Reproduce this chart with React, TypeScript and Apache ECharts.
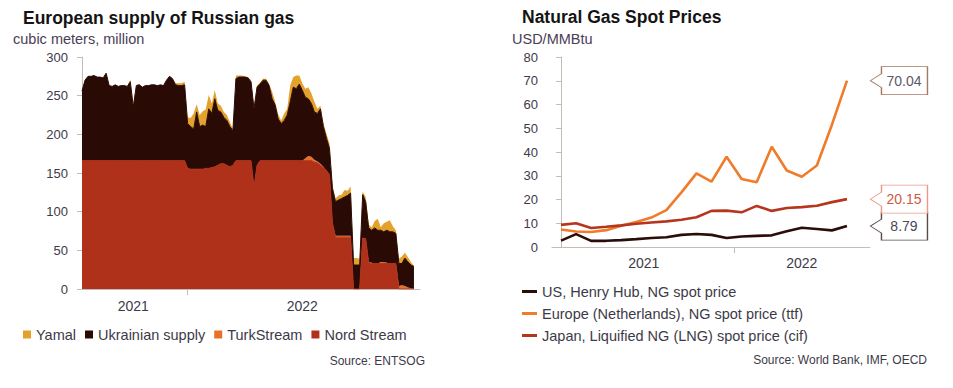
import React, { useEffect, useRef } from "react";
import * as echarts from "echarts";

// ---------- Left chart data (European supply of Russian gas, mcm/day) ----------
const gasSeriesNames = ["Yamal", "Ukrainian supply", "TurkStream", "Nord Stream"];
const leftYearLabels = ["2021", "2022"];

const nordStream = [
  166, 166, 166, 166, 166, 166, 166, 166, 166, 166,
  166, 166, 166, 166, 166, 166, 166, 166, 166, 166,
  166, 166, 166, 166, 166, 166, 166, 166, 166, 166,
  166, 166, 166, 166, 166, 156, 155, 155, 155, 155,
  155, 156, 156, 157, 158, 160, 162, 162, 160, 158,
  160, 166, 166, 166, 166, 166, 166, 132, 160, 166,
  166, 166, 166, 166, 166, 166, 166, 166, 166, 166,
  166, 166, 166, 166, 166, 166, 166, 164, 163, 160,
  157, 153, 148, 85, 67, 67, 67, 67, 67, 67,
  0, 0, 0, 66, 65, 34, 33, 33, 33, 33,
  33, 33, 33, 33, 33, 0, 0, 0, 0, 0, 0,
];

const turkStream = [
  0, 0, 0, 0, 0, 0, 0, 0, 0, 0,
  0, 0, 0, 0, 0, 0, 0, 0, 0, 0,
  0, 0, 0, 0, 0, 0, 0, 0, 0, 0,
  0, 0, 0, 0, 0, 0, 0, 0, 0, 0,
  0, 0, 0, 0, 0, 0, 0, 0, 0, 0,
  0, 0, 0, 0, 0, 0, 0, 0, 0, 0,
  0, 0, 0, 0, 0, 0, 0, 0, 0, 0,
  0, 0, 0, 0, 3, 6, 5, 3, 2, 2,
  1, 0, 0, 0, 2, 2, 2, 2, 2, 2,
  0, 0, 0, 0, 0, 1, 1, 0, 0, 2,
  2, 1, 0, 0, 0, 4, 5, 4, 2, 1, 0,
];

const ukrainianSupply = [
  90, 104, 109, 109, 110, 108, 108, 107, 113, 97,
  96, 98, 96, 97, 97, 96, 102, 69, 97, 98,
  95, 97, 97, 98, 98, 97, 98, 97, 104, 109,
  106, 98, 97, 97, 98, 58, 55, 52, 74, 55,
  57, 54, 77, 70, 88, 71, 67, 60, 58, 52,
  45, 106, 108, 108, 108, 107, 102, 101, 101, 99,
  104, 104, 97, 80, 72, 54, 48, 52, 59, 76,
  95, 93, 99, 91, 79, 74, 69, 62, 62, 71,
  52, 42, 34, 45, 44, 46, 48, 50, 52, 55,
  31, 31, 31, 56, 48, 44, 42, 46, 43, 41,
  39, 42, 41, 41, 39, 29, 28, 36, 33, 30, 29,
];

const yamal = [
  0, 0, 0, 0, 0, 0, 0, 0, 1, 0,
  0, 0, 0, 0, 0, 0, 3, 6, 1, 1,
  0, 0, 0, 0, 0, 0, 0, 0, 0, 0,
  0, 2, 3, 3, 4, 8, 11, 20, 10, 15,
  18, 22, 18, 13, 11, 9, 8, 7, 7, 6,
  2, 4, 2, 2, 1, 1, 2, 4, 2, 2,
  2, 2, 2, 9, 4, 6, 4, 9, 8, 21,
  13, 17, 11, 9, 11, 15, 13, 13, 6, 4,
  4, 6, 6, 4, 4, 6, 5, 9, 6, 9,
  9, 9, 8, 4, 6, 4, 4, 9, 15, 4,
  11, 11, 15, 7, 4, 6, 9, 7, 6, 4, 1,
];

// ---------- Right chart data (Natural gas spot prices, USD/MMBtu, monthly) ----------
const months = [
  "2021-01", "2021-02", "2021-03", "2021-04", "2021-05", "2021-06", "2021-07",
  "2021-08", "2021-09", "2021-10", "2021-11", "2021-12", "2022-01", "2022-02",
  "2022-03", "2022-04", "2022-05", "2022-06", "2022-07", "2022-08",
];
const rightYearLabels = ["2021", "2022"];
const priceSeriesNames = [
  "US, Henry Hub, NG spot price",
  "Europe (Netherlands), NG spot price (ttf)",
  "Japan, Liquified NG (LNG) spot price (cif)",
];
const usHenryHub = [2.7, 5.4, 2.6, 2.6, 2.9, 3.3, 3.8, 4.1, 5.1, 5.5, 5.1, 3.8, 4.4, 4.7, 4.9, 6.6, 8.1, 7.6, 7.0, 8.79];
const europeTTF = [7.4, 6.5, 6.3, 7.1, 8.9, 10.5, 12.4, 15.5, 23.0, 31.0, 27.5, 38.0, 28.6, 27.3, 42.2, 32.2, 29.6, 34.3, 51.5, 70.04];
const japanLNG = [9.3, 10.0, 8.0, 8.5, 9.1, 9.8, 10.3, 10.8, 11.5, 12.5, 15.2, 15.3, 14.6, 17.3, 15.2, 16.4, 16.8, 17.4, 18.9, 20.15];

// ---------- Layout / style constants ----------
const W = 953;
const H = 388;
const FONT = '"Liberation Sans", Arial, Helvetica, sans-serif';
const TXT = "#3d3a48";
const AXIS = "#c6bcb6";

const LEFT_PAD_CATEGORIES = 2; // empty slots after the last observation
const leftYearLabelIdx = [17, 73];
const leftYearTickIdx = 35;
const rightYearLabelPos = [5.5, 16];
const rightYearTickPos = [11.5];

const gasColors: Record<string, string> = {
  "Yamal": "#e4a22c",
  "Ukrainian supply": "#2a0a05",
  "TurkStream": "#ea7028",
  "Nord Stream": "#b0311a",
};
const gasEdgeWidth: Record<string, number> = {
  "Yamal": 0,
  "Ukrainian supply": 1,
  "TurkStream": 0,
  "Nord Stream": 1,
};

export default function App() {
  const ref = useRef<HTMLDivElement>(null);

  useEffect(() => {
    document.body.style.margin = "0";
    const chart = echarts.init(ref.current!, null, { renderer: "svg" });

    const nLeft = nordStream.length + LEFT_PAD_CATEGORIES;
    const leftCategories = Array.from({ length: nLeft }, (_, i) => "d" + i);
    const toPairs = (arr: number[]) => arr.map((v, i) => [i, v]);

    const area = (name: string, data: number[]) => ({
      name,
      type: "line",
      stack: "gas",
      xAxisIndex: 0,
      yAxisIndex: 0,
      data,
      symbol: "none",
      showSymbol: false,
      lineStyle: { width: gasEdgeWidth[name], color: gasColors[name] },
      areaStyle: { color: gasColors[name], opacity: 1 },
      itemStyle: { color: gasColors[name] },
      emphasis: { disabled: true },
      silent: true,
    });

    const line = (name: string, data: number[], color: string, boxBorder: string, boxText: string) => {
      const last = data.length - 1;
      return {
        name,
        type: "line",
        xAxisIndex: 1,
        yAxisIndex: 1,
        data: toPairs(data),
        symbol: "none",
        showSymbol: false,
        lineStyle: { width: 2.6, color },
        itemStyle: { color },
        emphasis: { disabled: true },
        silent: true,
        markPoint: {
          silent: true,
          symbol: "path://M11,0L57,0L57,28L11,28L11,21L0,14L11,7Z",
          symbolSize: [57, 28],
          symbolOffset: [52, 0],
          itemStyle: { color: "#ffffff", borderColor: boxBorder, borderWidth: 1 },
          label: {
            show: true,
            color: boxText,
            fontSize: 14,
            fontFamily: FONT,
            offset: [5, 0],
            formatter: (p: any) => Number(p.value).toFixed(2),
          },
          data: [{ coord: [last, data[last]], value: data[last] }],
        },
      };
    };

    const yAxisCommon = {
      type: "value",
      axisLine: { show: true, lineStyle: { color: AXIS, width: 1 } },
      axisTick: { show: true, length: 5, lineStyle: { color: AXIS } },
      splitLine: { show: false },
      axisLabel: { color: TXT, fontSize: 13, fontFamily: FONT, margin: 14 },
    };

    const option: any = {
      animation: false,
      backgroundColor: "#ffffff",
      textStyle: { fontFamily: FONT },
      graphic: [
        { type: "text", x: 23, y: 18, style: { text: "European supply of Russian gas", fontSize: 17.5, fontWeight: "bold", fontFamily: FONT, fill: "#141414", verticalAlign: "middle" } },
        { type: "text", x: 13, y: 39, style: { text: "cubic meters, million", fontSize: 14.5, fontFamily: FONT, fill: "#4a4056", verticalAlign: "middle" } },
        { type: "text", x: 522, y: 17, style: { text: "Natural Gas Spot Prices", fontSize: 17.5, fontWeight: "bold", fontFamily: FONT, fill: "#141414", verticalAlign: "middle" } },
        { type: "text", x: 512, y: 38.5, style: { text: "USD/MMBtu", fontSize: 14.5, fontFamily: FONT, fill: "#4a4056", verticalAlign: "middle" } },
        { type: "text", x: 425, y: 361, style: { text: "Source: ENTSOG", fontSize: 12, fontFamily: FONT, fill: TXT, align: "right", verticalAlign: "middle" } },
        { type: "text", x: 927, y: 360, style: { text: "Source: World Bank, IMF, OECD", fontSize: 12, fontFamily: FONT, fill: TXT, align: "right", verticalAlign: "middle" } },
      ],
      legend: [
        {
          data: gasSeriesNames,
          left: 18,
          top: 322,
          icon: "rect",
          itemWidth: 8,
          itemHeight: 8,
          itemGap: 9,
          selectedMode: false,
          textStyle: { color: TXT, fontSize: 14.5, fontFamily: FONT },
        },
        {
          data: priceSeriesNames,
          orient: "vertical",
          left: 517,
          top: 279,
          icon: "rect",
          itemWidth: 15,
          itemHeight: 3,
          itemGap: 7,
          selectedMode: false,
          textStyle: { color: TXT, fontSize: 14.5, fontFamily: FONT },
        },
      ],
      grid: [
        { left: 82, top: 57, width: 338, height: 232 },
        { left: 552, top: 57, width: 318, height: 190 },
      ],
      xAxis: [
        {
          type: "category",
          gridIndex: 0,
          data: leftCategories,
          boundaryGap: false,
          axisLine: { show: true, lineStyle: { color: AXIS } },
          axisTick: {
            show: true,
            length: 6,
            interval: (index: number) => index === leftYearTickIdx,
            lineStyle: { color: AXIS },
          },
          splitLine: { show: false },
          axisLabel: {
            interval: (index: number) => leftYearLabelIdx.indexOf(index) >= 0,
            color: TXT,
            fontSize: 14,
            fontFamily: FONT,
            margin: 10,
            formatter: (_v: string, index: number) => leftYearLabels[leftYearLabelIdx.indexOf(index)] ?? "",
          },
        },
        {
          type: "value",
          gridIndex: 1,
          min: -0.6,
          max: 20.53,
          axisLine: { show: true, onZero: false, lineStyle: { color: AXIS } },
          axisTick: { show: true, length: 6, customValues: rightYearTickPos, lineStyle: { color: AXIS } },
          splitLine: { show: false },
          axisLabel: {
            customValues: rightYearLabelPos,
            color: TXT,
            fontSize: 14,
            fontFamily: FONT,
            margin: 9,
            formatter: (v: number) => rightYearLabels[rightYearLabelPos.indexOf(v)] ?? "",
          },
        },
      ],
      yAxis: [
        { ...yAxisCommon, gridIndex: 0, min: 0, max: 300, interval: 50 },
        { ...yAxisCommon, gridIndex: 1, min: 0, max: 80, interval: 10 },
      ],
      series: [
        area("Nord Stream", nordStream),
        area("TurkStream", turkStream),
        area("Ukrainian supply", ukrainianSupply),
        area("Yamal", yamal),
        line(priceSeriesNames[0], usHenryHub, "#2b0c08", "#5e4c48", "#4a4656"),
        line(priceSeriesNames[1], europeTTF, "#ef7b2b", "#a8775f", "#5e5868"),
        line(priceSeriesNames[2], japanLNG, "#b5361c", "#ec9a86", "#cf5a46"),
      ],
    };

    void months;

    chart.setOption(option);
    return () => chart.dispose();
  }, []);

  return <div ref={ref} style={{ width: W, height: H }} />;
}
